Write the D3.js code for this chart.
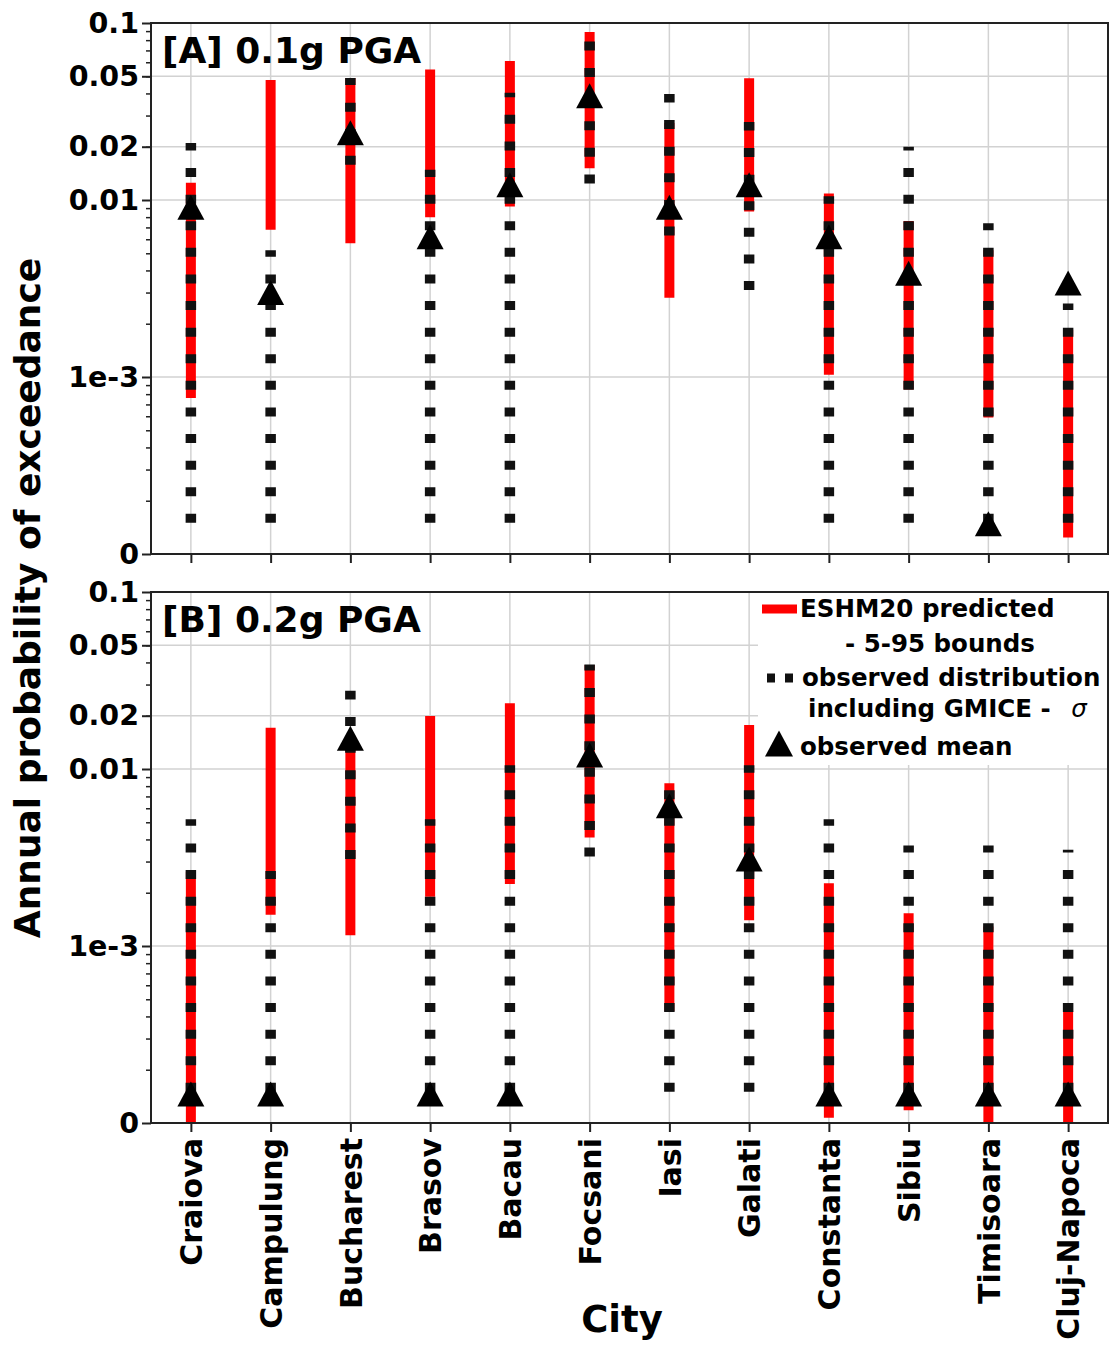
<!DOCTYPE html>
<html>
<head>
<meta charset="utf-8">
<script src="https://cdn.jsdelivr.net/npm/d3@7"></script>
<style>
  body { margin: 0; background: #fff; }
  text { font-family: "DejaVu Sans", sans-serif; font-weight: bold; fill: #000; }
</style>
</head>
<body>
<svg id="chart" width="1112" height="1349"></svg>
<script>
const cities = ["Craiova", "Campulung", "Bucharest", "Brasov", "Bacau", "Focsani",
  "Iasi", "Galati", "Constanta", "Sibiu", "Timisoara", "Cluj-Napoca"];

// y ticks (the bottom of the log axis is labelled "0")
const yTickValues = [1e-4, 1e-3, 0.01, 0.02, 0.05, 0.1];
const yTickLabels = ["0", "1e-3", "0.01", "0.02", "0.05", "0.1"];

// [A] 0.1g PGA
const predLow01  = [0.00076, 0.0068, 0.0057, 0.0080, 0.0092, 0.0151, 0.0028, 0.0086, 0.00103, 0.00085, 0.00059, 0.000124];
const predHigh01 = [0.0125, 0.0476, 0.0489, 0.0547, 0.061, 0.089, 0.0272, 0.0487, 0.0109, 0.0076, 0.0052, 0.00185];
const obsLow01   = [0.00015, 0.00015, 0.0158, 0.00015, 0.00015, 0.0124, 0.0063, 0.0031, 0.00015, 0.00015, 0.00015, 0.00015];
const obsHigh01  = [0.021, 0.0052, 0.0489, 0.0148, 0.0404, 0.08, 0.0397, 0.0276, 0.0105, 0.02, 0.0074, 0.0026];
const obsMean01  = [0.0091, 0.0030, 0.024, 0.0062, 0.0122, 0.0388, 0.0091, 0.0122, 0.0062, 0.00385, 0.000148, 0.0034];

// [B] 0.2g PGA
const predLow02  = [0.0001, 0.0015, 0.00115, 0.0019, 0.00224, 0.0041, 0.00043, 0.0014, 0.000107, 0.000118, 0.0001, 0.0001];
const predHigh02 = [0.00263, 0.0171, 0.0137, 0.0199, 0.0235, 0.0387, 0.0083, 0.0177, 0.00226, 0.00153, 0.00129, 0.00043];
const obsLow02   = [0.00015, 0.00015, 0.0031, 0.00015, 0.00015, 0.0032, 0.00015, 0.00015, 0.00015, 0.00015, 0.00015, 0.00015];
const obsHigh02  = [0.0052, 0.00265, 0.0277, 0.0052, 0.0105, 0.039, 0.0095, 0.0105, 0.0052, 0.0037, 0.0037, 0.0035];
const obsMean02  = [0.000146, 0.000146, 0.0149, 0.000146, 0.000146, 0.012, 0.0062, 0.0031, 0.000146, 0.000146, 0.000146, 0.000146];

const panels = [
  { title: "[A] 0.1g PGA", top: 23, bottom: 554, predLow: predLow01, predHigh: predHigh01,
    obsLow: obsLow01, obsHigh: obsHigh01, obsMean: obsMean01, labels: false },
  { title: "[B] 0.2g PGA", top: 592, bottom: 1123, predLow: predLow02, predHigh: predHigh02,
    obsLow: obsLow02, obsHigh: obsHigh02, obsMean: obsMean02, labels: true }
];

const left = 151, right = 1108;
const svg = d3.select("#chart");

const x = d3.scalePoint().domain(cities).range([left, right]).padding(0.5);

// minor ticks 2..9 x 10^k
const minorTicks = [];
[1e-4, 1e-3, 1e-2].forEach(dec => d3.range(2, 10).forEach(k => minorTicks.push(k * dec)));

const triangle = (cx, cy, w, h) =>
  `M${cx},${cy - h / 2}L${cx + w / 2},${cy + h / 2}L${cx - w / 2},${cy + h / 2}Z`;

panels.forEach((p, pi) => {
  const y = d3.scaleLog().domain([1e-4, 0.1]).range([p.bottom, p.top]).clamp(true);
  const g = svg.append("g");

  g.append("clipPath").attr("id", "clip" + pi)
    .append("rect").attr("x", left).attr("y", p.top)
    .attr("width", right - left).attr("height", p.bottom - p.top);

  // grid
  g.selectAll(".vgrid").data(cities).join("line")
    .attr("x1", d => x(d)).attr("x2", d => x(d))
    .attr("y1", p.top).attr("y2", p.bottom)
    .attr("stroke", "#d2d2d2").attr("stroke-width", 1.5);
  g.selectAll(".hgrid").data(yTickValues).join("line")
    .attr("x1", left).attr("x2", right)
    .attr("y1", d => y(d)).attr("y2", d => y(d))
    .attr("stroke", "#d2d2d2").attr("stroke-width", 1.5);

  const marks = g.append("g").attr("clip-path", `url(#clip${pi})`);

  // predicted 5-95 bounds
  marks.selectAll(".pred").data(cities).join("line")
    .attr("x1", d => x(d)).attr("x2", d => x(d))
    .attr("y1", (d, i) => y(p.predLow[i])).attr("y2", (d, i) => y(p.predHigh[i]))
    .attr("stroke", "#ff0000").attr("stroke-width", 10);

  // observed distribution (dotted, drawn from low to high)
  marks.selectAll(".obs").data(cities).join("line")
    .attr("x1", d => x(d)).attr("x2", d => x(d))
    .attr("y1", (d, i) => y(p.obsLow[i])).attr("y2", (d, i) => y(p.obsHigh[i]))
    .attr("stroke", "#111").attr("stroke-width", 10.5)
    .attr("stroke-dasharray", "9 17.6");

  // observed mean
  marks.selectAll(".mean").data(cities).join("path")
    .attr("d", (d, i) => triangle(x(d), y(p.obsMean[i]), 27, 25))
    .attr("fill", "#000");

  // minor y ticks
  const minorAxis = g.append("g").attr("transform", `translate(${left},0)`)
    .call(d3.axisLeft(y).tickValues(minorTicks).tickSize(5).tickFormat(""));
  minorAxis.select(".domain").remove();
  minorAxis.selectAll("line").attr("stroke", "#222").attr("stroke-width", 1.5);

  // major y ticks
  const yAxis = g.append("g").attr("transform", `translate(${left},0)`)
    .call(d3.axisLeft(y).tickValues(yTickValues).tickSize(9).tickPadding(3)
      .tickFormat((d, i) => yTickLabels[i]));
  yAxis.select(".domain").remove();
  yAxis.selectAll("line").attr("stroke", "#222").attr("stroke-width", 2);
  yAxis.selectAll("text").attr("font-family", null)
    .style("font-size", "28.5px").attr("fill", "#000");

  // x ticks
  const xAxis = g.append("g").attr("transform", `translate(0,${p.bottom})`)
    .call(d3.axisBottom(x).tickSize(9).tickFormat(p.labels ? (d => d) : ""));
  xAxis.select(".domain").remove();
  xAxis.selectAll("line").attr("stroke", "#222").attr("stroke-width", 2);
  if (p.labels) {
    xAxis.selectAll("text")
      .attr("transform", "rotate(-90)")
      .attr("text-anchor", "end")
      .attr("x", -15).attr("y", 0).attr("dy", "0.36em")
      .style("font-size", "30px").attr("fill", "#000");
  }

  // frame
  g.append("rect").attr("x", left).attr("y", p.top)
    .attr("width", right - left).attr("height", p.bottom - p.top)
    .attr("fill", "none").attr("stroke", "#222").attr("stroke-width", 2);

  // panel title
  g.append("text").attr("x", 162).attr("y", p.top + 40)
    .style("font-size", "36px").text(p.title);
});

// legend in panel B
const lg = svg.append("g");
lg.append("rect").attr("x", 758).attr("y", 593).attr("width", 349).attr("height", 172).attr("fill", "#fff");
lg.append("line").attr("x1", 762).attr("x2", 797).attr("y1", 609).attr("y2", 609)
  .attr("stroke", "#ff0000").attr("stroke-width", 9);
lg.append("text").attr("x", 800).attr("y", 617).style("font-size", "24.5px").text("ESHM20 predicted");
lg.append("text").attr("x", 845).attr("y", 652).style("font-size", "24.5px").text("- 5-95 bounds");
lg.append("line").attr("x1", 767).attr("x2", 793).attr("y1", 678).attr("y2", 678)
  .attr("stroke", "#111").attr("stroke-width", 9).attr("stroke-dasharray", "8 10");
lg.append("text").attr("x", 802).attr("y", 686).style("font-size", "24.5px").text("observed distribution");
const inc = lg.append("text").attr("x", 808).attr("y", 717).style("font-size", "24.5px");
inc.append("tspan").text("including GMICE - ");
inc.append("tspan").attr("dx", 12).style("font-style", "italic").style("font-weight", "normal").text("σ");
lg.append("path").attr("d", triangle(779, 743.5, 28, 26)).attr("fill", "#000");
lg.append("text").attr("x", 800).attr("y", 755).style("font-size", "24.5px").text("observed mean");

// axis titles
svg.append("text")
  .attr("transform", "translate(40,598) rotate(-90)")
  .attr("text-anchor", "middle").style("font-size", "36px")
  .text("Annual probability of exceedance");
svg.append("text").attr("x", 622).attr("y", 1332)
  .attr("text-anchor", "middle").style("font-size", "37px").text("City");
</script>
</body>
</html>
